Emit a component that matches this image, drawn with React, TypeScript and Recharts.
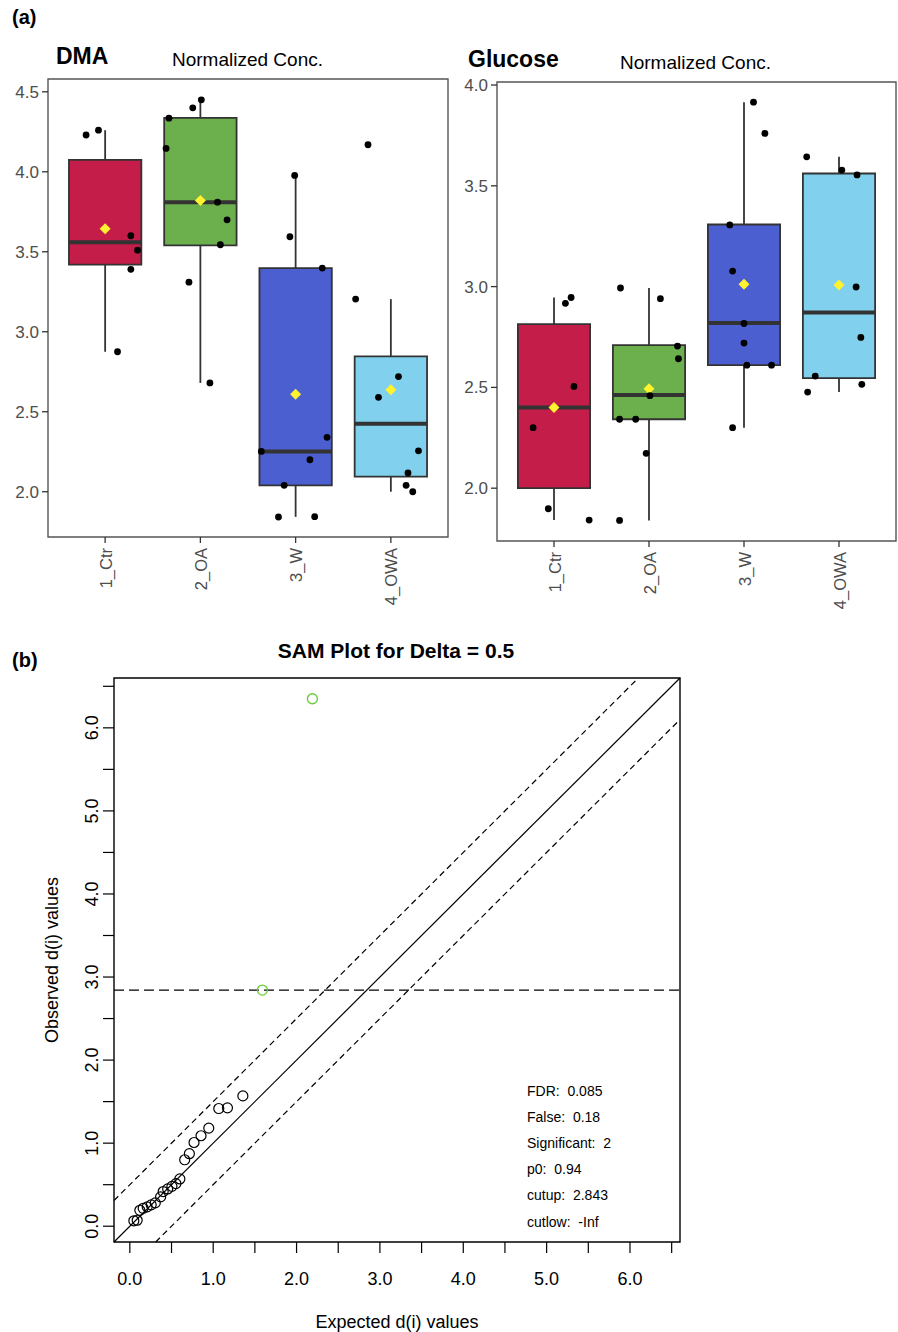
import React from 'react';
import { ComposedChart, Scatter, XAxis, YAxis, ReferenceArea, ReferenceLine } from 'recharts';

const font = '"Liberation Sans", Arial, Helvetica, sans-serif';

// groups shared by both box plots
const groups = ['1_Ctr', '2_OA', '3_W', '4_OWA'];
const groupColors = ['#C51D4A', '#6CB04E', '#4C5FD0', '#80D0EE'];

// DMA normalized concentrations (points per group) and horizontal jitter (category units)
const dmaPoints = [
  [4.23, 4.26, 3.6, 3.51, 3.39, 2.875],
  [4.45, 4.4, 4.335, 4.146, 3.81, 3.7, 3.544, 3.31, 2.68],
  [3.977, 3.594, 3.398, 2.252, 2.34, 2.2, 2.04, 1.842, 1.844],
  [4.169, 3.204, 2.72, 2.59, 2.256, 2.117, 2.04, 2.0],
];
const dmaJitter = [
  [-0.2, -0.07, 0.27, 0.34, 0.27, 0.13],
  [0.01, -0.08, -0.33, -0.36, 0.18, 0.28, 0.21, -0.12, 0.1],
  [-0.01, -0.06, 0.28, -0.36, 0.33, 0.15, -0.12, -0.18, 0.2],
  [-0.24, -0.37, 0.08, -0.13, 0.29, 0.18, 0.16, 0.23],
];
const dmaLow = [2.875, 2.68, 1.843, 2.0];
const dmaQ1 = [3.42, 3.54, 2.04, 2.095];
const dmaMedian = [3.56, 3.81, 2.252, 2.425];
const dmaQ3 = [4.075, 4.337, 3.398, 2.846];
const dmaHigh = [4.26, 4.45, 3.977, 3.204];
const dmaMean = [3.644, 3.82, 2.61, 2.637];
const dmaTicks = [2.0, 2.5, 3.0, 3.5, 4.0, 4.5];

// Glucose normalized concentrations
const gluPoints = [
  [2.917, 2.946, 2.505, 2.3, 1.898, 1.842],
  [2.993, 2.94, 2.705, 2.642, 2.459, 2.342, 2.342, 2.173, 1.84],
  [3.915, 3.76, 3.306, 3.077, 2.817, 2.72, 2.61, 2.61, 2.3],
  [3.644, 3.578, 3.554, 2.998, 2.748, 2.556, 2.477, 2.515],
];
const gluJitter = [
  [0.12, 0.18, 0.21, -0.22, -0.06, 0.37],
  [-0.3, 0.12, 0.3, 0.31, 0.01, -0.31, -0.14, -0.03, -0.31],
  [0.1, 0.22, -0.15, -0.12, 0.0, 0.0, 0.03, 0.29, -0.12],
  [-0.34, 0.03, 0.19, 0.18, 0.23, -0.25, -0.33, 0.24],
];
const gluLow = [1.842, 1.84, 2.3, 2.477];
const gluQ1 = [2.0, 2.342, 2.61, 2.546];
const gluMedian = [2.4, 2.462, 2.82, 2.872];
const gluQ3 = [2.814, 2.71, 3.308, 3.561];
const gluHigh = [2.946, 2.993, 3.915, 3.644];
const gluMean = [2.4, 2.493, 3.012, 3.008];
const gluTicks = [2.0, 2.5, 3.0, 3.5, 4.0];

// SAM plot
const samExpected = [1.356, 1.171, 1.067, 0.947, 0.854, 0.77, 0.714, 0.658, 0.6, 0.553, 0.505, 0.454, 0.4, 0.369, 0.305, 0.256, 0.208, 0.16, 0.12, 0.088, 0.048];
const samObserved = [1.569, 1.425, 1.417, 1.181, 1.089, 1.008, 0.873, 0.8, 0.569, 0.513, 0.48, 0.449, 0.417, 0.353, 0.281, 0.257, 0.233, 0.216, 0.192, 0.072, 0.065];
const sigExpected = [2.19, 1.59];
const sigObserved = [6.35, 2.843];
const samDelta = 0.5;
const samCutup = 2.843;
const samTicks = [0, 0.5, 1, 1.5, 2, 2.5, 3, 3.5, 4, 4.5, 5, 5.5, 6, 6.5];
const samStats = ['FDR:  0.085', 'False:  0.18', 'Significant:  2', 'p0:  0.94', 'cutup:  2.843', 'cutlow:  -Inf'];

const SAM_MIN = -0.19;
const SAM_MAX = 6.6;
const BOX_HALF = 0.38;

const Dot = (p: any) => <circle cx={p.cx} cy={p.cy} r={3.4} fill="#000" />;
const Diamond = (p: any) => (
  <path d={`M${p.cx},${p.cy - 5.5}L${p.cx + 5.5},${p.cy}L${p.cx},${p.cy + 5.5}L${p.cx - 5.5},${p.cy}Z`} fill="#FFF22E" />
);
const Ring = (p: any) => <circle cx={p.cx} cy={p.cy} r={5} fill="none" stroke="#000" strokeWidth={1.2} />;
const GreenRing = (p: any) => <circle cx={p.cx} cy={p.cy} r={5} fill="none" stroke="#66CC33" strokeWidth={1.3} />;

const GroupTick = ({ x, y, payload }: any) => (
  <g transform={`translate(${x},${y})`}>
    <text transform="rotate(-90)" textAnchor="end" dy="0.4em" fontSize={16.5} fill="#4D4D4D" fontFamily={font}>
      {groups[payload.value]}
    </text>
  </g>
);

const SamYTick = ({ x, y, payload }: any) =>
  Number.isInteger(payload.value) ? (
    <g transform={`translate(${x},${y})`}>
      <text transform="rotate(-90)" textAnchor="middle" fontSize={18} fill="#000" fontFamily={font}>
        {payload.value.toFixed(1)}
      </text>
    </g>
  ) : null;

const Txt = ({ left, top, size, bold, center, rotate, children }: any) => (
  <div
    style={{
      position: 'absolute',
      left,
      top,
      fontSize: size,
      fontWeight: bold ? 'bold' : 'normal',
      fontFamily: font,
      lineHeight: 1,
      whiteSpace: 'pre',
      color: '#000',
      transform: `translate(${center ? '-50%' : '0'},-50%)${rotate ? ' rotate(-90deg)' : ''}`,
    }}
  >
    {children}
  </div>
);

const BoxPanel = (props: any) => {
  const { left, top, width, height, margin, yDomain, yTicks, points, jitter, low, q1, median, q3, high, mean } = props;
  const meanData = mean.map((m: number, i: number) => ({ x: i, y: m }));
  const pointData = points.flatMap((vals: number[], i: number) => vals.map((v, j) => ({ x: i + jitter[i][j], y: v })));
  return (
    <div style={{ position: 'absolute', left, top }}>
      <ComposedChart width={width} height={height} margin={margin}>
        <XAxis
          type="number"
          dataKey="x"
          domain={[-0.6, 3.6]}
          allowDataOverflow
          ticks={[0, 1, 2, 3]}
          tick={<GroupTick />}
          tickSize={6}
          tickMargin={5}
          height={70}
          axisLine={false}
          tickLine={{ stroke: '#333', strokeWidth: 1.3 }}
        />
        <YAxis
          type="number"
          dataKey="y"
          domain={yDomain}
          allowDataOverflow
          ticks={yTicks}
          tickFormatter={(v: number) => v.toFixed(1)}
          width={40}
          tickSize={6}
          tickMargin={3}
          axisLine={false}
          tickLine={{ stroke: '#333', strokeWidth: 1.3 }}
          tick={{ fontSize: 17, fill: '#4D4D4D', fontFamily: font }}
        />
        <ReferenceArea x1={-0.6} x2={3.6} y1={yDomain[0]} y2={yDomain[1]} fill="none" stroke="#555" strokeWidth={1.4} ifOverflow="visible" />
        {groups.map((g, i) => (
          <ReferenceLine key={`wl${g}`} segment={[{ x: i, y: low[i] }, { x: i, y: q1[i] }]} stroke="#333" strokeWidth={1.8} ifOverflow="visible" />
        ))}
        {groups.map((g, i) => (
          <ReferenceLine key={`wh${g}`} segment={[{ x: i, y: q3[i] }, { x: i, y: high[i] }]} stroke="#333" strokeWidth={1.8} ifOverflow="visible" />
        ))}
        {groups.map((g, i) => (
          <ReferenceArea
            key={`b${g}`}
            x1={i - BOX_HALF}
            x2={i + BOX_HALF}
            y1={q1[i]}
            y2={q3[i]}
            fill={groupColors[i]}
            fillOpacity={1}
            stroke="#333"
            strokeWidth={1.8}
            ifOverflow="visible"
          />
        ))}
        {groups.map((g, i) => (
          <ReferenceLine
            key={`m${g}`}
            segment={[{ x: i - BOX_HALF, y: median[i] }, { x: i + BOX_HALF, y: median[i] }]}
            stroke="#333"
            strokeWidth={4}
            ifOverflow="visible"
          />
        ))}
        <Scatter data={meanData} dataKey="y" shape={Diamond} isAnimationActive={false} />
        <Scatter data={pointData} dataKey="y" shape={Dot} isAnimationActive={false} />
      </ComposedChart>
    </div>
  );
};

export default function App() {
  const samData = samExpected.map((x, i) => ({ x, y: samObserved[i] }));
  const sigData = sigExpected.map((x, i) => ({ x, y: sigObserved[i] }));
  return (
    <div style={{ position: 'absolute', left: 0, top: 0, width: 898, height: 1332, background: '#fff', fontFamily: font }}>
      <BoxPanel
        left={0}
        top={0}
        width={450}
        height={620}
        margin={{ top: 79, right: 2, bottom: 13, left: 8 }}
        yDomain={[1.717, 4.58]}
        yTicks={dmaTicks}
        points={dmaPoints}
        jitter={dmaJitter}
        low={dmaLow}
        q1={dmaQ1}
        median={dmaMedian}
        q3={dmaQ3}
        high={dmaHigh}
        mean={dmaMean}
      />
      <BoxPanel
        left={450}
        top={0}
        width={448}
        height={620}
        margin={{ top: 82, right: 2, bottom: 9, left: 7 }}
        yDomain={[1.738, 4.015]}
        yTicks={gluTicks}
        points={gluPoints}
        jitter={gluJitter}
        low={gluLow}
        q1={gluQ1}
        median={gluMedian}
        q3={gluQ3}
        high={gluHigh}
        mean={gluMean}
      />

      <div style={{ position: 'absolute', left: 0, top: 600 }}>
        <ComposedChart width={898} height={732} margin={{ top: 78, right: 218, bottom: 30, left: 54 }}>
          <XAxis
            type="number"
            dataKey="x"
            domain={[SAM_MIN, SAM_MAX]}
            allowDataOverflow
            ticks={samTicks}
            tickFormatter={(v: number) => (Number.isInteger(v) ? v.toFixed(1) : '')}
            height={60}
            tickSize={11}
            tickMargin={19}
            axisLine={false}
            tickLine={{ stroke: '#000', strokeWidth: 1.2 }}
            tick={{ fontSize: 18, fill: '#000', fontFamily: font }}
          />
          <YAxis
            type="number"
            dataKey="y"
            domain={[SAM_MIN, SAM_MAX]}
            allowDataOverflow
            ticks={samTicks}
            width={60}
            tickSize={11}
            tickMargin={5}
            axisLine={false}
            tickLine={{ stroke: '#000', strokeWidth: 1.2 }}
            tick={<SamYTick />}
          />
          <ReferenceArea x1={SAM_MIN} x2={SAM_MAX} y1={SAM_MIN} y2={SAM_MAX} fill="none" stroke="#000" strokeWidth={1.4} ifOverflow="visible" />
          <ReferenceLine segment={[{ x: SAM_MIN, y: SAM_MIN }, { x: SAM_MAX, y: SAM_MAX }]} stroke="#000" strokeWidth={1.2} ifOverflow="visible" />
          <ReferenceLine
            segment={[{ x: SAM_MIN, y: SAM_MIN + samDelta }, { x: SAM_MAX - samDelta, y: SAM_MAX }]}
            stroke="#000"
            strokeWidth={1.2}
            strokeDasharray="6 4"
            ifOverflow="visible"
          />
          <ReferenceLine
            segment={[{ x: SAM_MIN + samDelta, y: SAM_MIN }, { x: SAM_MAX, y: SAM_MAX - samDelta }]}
            stroke="#000"
            strokeWidth={1.2}
            strokeDasharray="6 4"
            ifOverflow="visible"
          />
          <ReferenceLine y={samCutup} stroke="#000" strokeWidth={1.2} strokeDasharray="10 5" ifOverflow="visible" />
          <Scatter data={samData} dataKey="y" shape={Ring} isAnimationActive={false} />
          <Scatter data={sigData} dataKey="y" shape={GreenRing} isAnimationActive={false} />
        </ComposedChart>
      </div>

      <Txt left={12} top={17} size={20} bold>(a)</Txt>
      <Txt left={56} top={56} size={23} bold>DMA</Txt>
      <Txt left={172} top={59} size={19}>Normalized Conc.</Txt>
      <Txt left={468} top={59} size={23} bold>Glucose</Txt>
      <Txt left={620} top={62} size={19}>Normalized Conc.</Txt>

      <Txt left={12} top={660} size={20} bold>(b)</Txt>
      <Txt left={396} top={650} size={21} bold center>SAM Plot for Delta = 0.5</Txt>
      <Txt left={397} top={1322} size={18} center>Expected d(i) values</Txt>
      <Txt left={52} top={960} size={18} center rotate>Observed d(i) values</Txt>
      {samStats.map((s, i) => (
        <Txt key={s} left={527} top={1091 + i * 26.1} size={14}>{s}</Txt>
      ))}
    </div>
  );
}
